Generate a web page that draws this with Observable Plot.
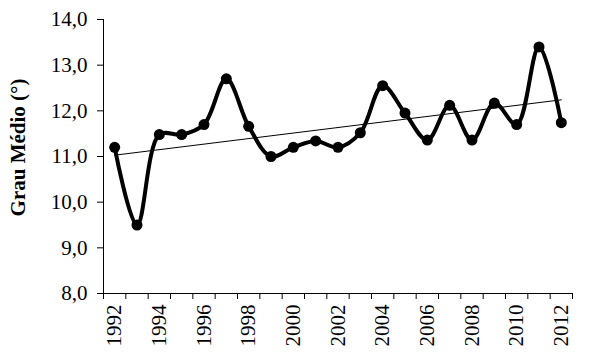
<!DOCTYPE html>
<html>
<head>
<meta charset="utf-8">
<script src="https://cdn.jsdelivr.net/npm/d3@7"></script>
<script src="https://cdn.jsdelivr.net/npm/@observablehq/plot@0.6"></script>
<style>
  html, body { margin: 0; padding: 0; background: #fff; }
  svg { display: block; }
  svg text { font-family: 'Liberation Serif', 'Times New Roman', serif !important; }
</style>
</head>
<body>
<div id="chart"></div>
<script>
const years = [1992,1993,1994,1995,1996,1997,1998,1999,2000,2001,2002,2003,2004,2005,2006,2007,2008,2009,2010,2011,2012];
const values = [11.2,9.5,11.48,11.48,11.7,12.7,11.66,11.0,11.2,11.34,11.2,11.52,12.55,11.95,11.36,12.12,11.36,12.17,11.7,13.4,11.74];
const yTicks = [8,9,10,11,12,13,14];
const xLabelYears = [1992,1994,1996,1998,2000,2002,2004,2006,2008,2010,2012];
const yTitle = "Grau Médio (°)";

const data = years.map((y, i) => ({year: y, value: values[i]}));
const boundaries = d3.range(years[0] - 0.5, years[years.length - 1] + 1, 1);
const font = "'Liberation Serif', 'Times New Roman', serif";

const chart = Plot.plot({
  width: 592,
  height: 357,
  marginLeft: 103,
  marginRight: 20,
  marginTop: 19,
  marginBottom: 64,
  style: {fontFamily: font, background: "white", color: "black"},
  x: {domain: [boundaries[0], boundaries[boundaries.length - 1]], axis: null, label: null},
  y: {domain: [8, 14], axis: null, label: null},
  marks: [
    Plot.ruleY([8], {x1: boundaries[0], x2: boundaries[boundaries.length - 1], stroke: "black", strokeWidth: 1}),
    Plot.ruleX([boundaries[0]], {y1: 8, y2: 14, stroke: "black", strokeWidth: 1}),
    Plot.axisY({ticks: yTicks, tickSize: 6, tickPadding: 10, fontSize: 21, label: null, tickFormat: d => d.toFixed(1).replace(".", ","), stroke: "black"}),
    Plot.axisX({ticks: boundaries, tickSize: 6, label: null, tickFormat: () => "", stroke: "black"}),
    Plot.text(xLabelYears, {x: d => d, text: d => String(d), frameAnchor: "bottom", rotate: -90, textAnchor: "end", lineAnchor: "middle", dy: 11, fontSize: 21, fill: "black"}),
    Plot.linearRegressionY(data, {x: "year", y: "value", ci: 0, stroke: "black", strokeWidth: 1}),
    Plot.line(data, {x: "year", y: "value", curve: "catmull-rom", stroke: "black", strokeWidth: 4}),
    Plot.dot(data, {x: "year", y: "value", r: 5.5, fill: "black", stroke: "none"}),
    Plot.text([yTitle], {frameAnchor: "left", textAnchor: "middle", rotate: -90, dx: -85, dy: -9, fontSize: 21, fontWeight: "bold", fill: "black"})
  ]
});
document.getElementById("chart").appendChild(chart);
</script>
</body>
</html>
